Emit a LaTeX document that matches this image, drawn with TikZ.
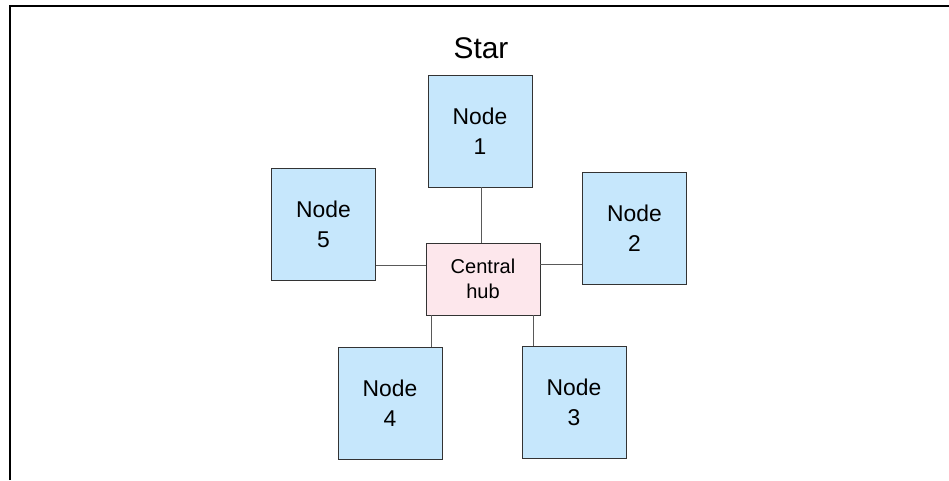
\documentclass[tikz,border=0pt]{standalone}
\usepackage{fontspec}
\setmainfont{Liberation Sans}
\usetikzlibrary{positioning}

\begin{document}
\begin{tikzpicture}[
    station/.style={draw=black!80, line width=0.5pt, fill=node_blue,
        minimum width=2.08cm, minimum height=2.24cm, align=center,
        font=\fontsize{13}{17}\selectfont},
    hubbox/.style={draw=black!80, line width=0.5pt, fill=hub_pink,
        minimum width=2.28cm, minimum height=1.44cm, align=center,
        font=\fontsize{11.4}{14.2}\selectfont},
    link/.style={draw=black!65, line width=0.55pt}
]
    \definecolor{node_blue}{HTML}{C6E7FC}
    \definecolor{hub_pink}{HTML}{FDE7EC}
    %\draw[help lines] (0,0) grid (19,10);
    \useasboundingbox (0,0) rectangle (18.98,9.6);
    \draw[line width=1.2pt] (0.2,0) -- (0.2,9.48) -- (18.98,9.48);

    \node (title) at (9.62,8.64) {\fontsize{17}{20}\selectfont Star};

    \node[hubbox] (hub) at (9.66,4.02) {Central\\hub};
    \node[station] (n1) at (9.6,6.98) {Node\\1};
    \node[station] (n2) at (12.69,5.03) {Node\\2};
    \node[station] (n3) at (11.48,1.55) {Node\\3};
    \node[station] (n4) at (7.8,1.54) {Node\\4};
    \node[station] (n5) at (6.47,5.11) {Node\\5};

    \draw[link] ([xshift=-0.3mm]hub.north) -- ([xshift=-0.3mm]hub.north |- n1.south);
    \draw[link] ([yshift=3mm]hub.east) -- ([yshift=3mm]hub.east -| n2.west);
    \draw[link] ([xshift=-1.4mm]hub.south east) -- ([xshift=-1.4mm]hub.south east |- n3.north);
    \draw[link] ([xshift=1.2mm]hub.south west) -- ([xshift=1.2mm]hub.south west |- n4.north);
    \draw[link] ([yshift=2.8mm]hub.west) -- ([yshift=2.8mm]hub.west -| n5.east);
\end{tikzpicture}
\end{document}
